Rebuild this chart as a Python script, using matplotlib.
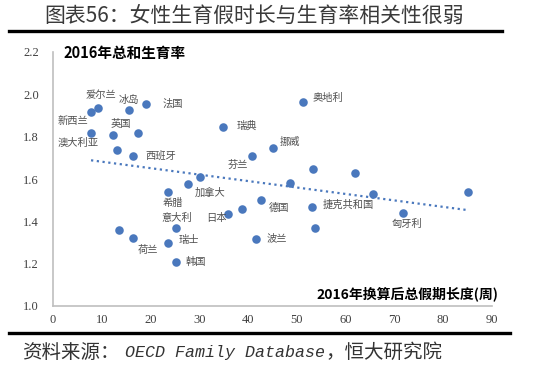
import numpy as np
import matplotlib
matplotlib.use("Agg")
import matplotlib.pyplot as plt

plt.rcParams['font.family'] = ['Noto Sans CJK SC', 'DejaVu Sans']

# ---- data ----
leave_weeks = [7.8, 9.2, 15.6, 19.0, 7.8, 12.2, 17.5, 13.2, 16.3, 34.8,
               45.0, 40.8, 30.1, 51.3, 53.3, 62.0, 48.6, 27.6, 23.5, 35.9,
               38.8, 42.7, 25.2, 13.6, 16.3, 23.5, 41.6, 25.2, 53.2, 53.7,
               65.6, 71.8, 85.0]
fertility = [1.916, 1.935, 1.924, 1.955, 1.818, 1.806, 1.816, 1.737, 1.707, 1.847,
             1.748, 1.707, 1.610, 1.964, 1.646, 1.627, 1.579, 1.577, 1.538, 1.437,
             1.458, 1.499, 1.369, 1.359, 1.320, 1.300, 1.318, 1.206, 1.469, 1.369,
             1.527, 1.439, 1.538]
labels = ['新西兰', '爱尔兰', '冰岛', '法国', '澳大利亚', '英国', '', '', '西班牙', '瑞典',
          '挪威', '芬兰', '加拿大', '奥地利', '', '', '', '', '希腊', '日本',
          '', '德国', '意大利', '', '荷兰', '瑞士', '波兰', '韩国', '捷克共和国', '',
          '', '匈牙利', '']
# label offsets in pixels (dx right, dy down) relative to the point
label_offsets = {'新西兰': (-18, 9), '爱尔兰': (3, -13), '冰岛': (0, -10), '法国': (27, 0),
                 '澳大利亚': (-13, 10), '英国': (8, -11), '西班牙': (28, -1), '瑞典': (24, -1),
                 '挪威': (17, -6), '芬兰': (-14, 8), '加拿大': (10, 16), '奥地利': (25, -4),
                 '希腊': (5, 11), '日本': (-12, 4), '德国': (18, 7), '意大利': (1, -10),
                 '荷兰': (15, 12), '瑞士': (21, -2), '波兰': (21, 0), '韩国': (20, 0),
                 '捷克共和国': (36, -2), '匈牙利': (4, 11)}

x_ticks = [0, 10, 20, 30, 40, 50, 60, 70, 80, 90]
y_ticks = [1.0, 1.2, 1.4, 1.6, 1.8, 2.0, 2.2]

title = '图表56：女性生育假时长与生育率相关性很弱'
y_title = '2016年总和生育率'
x_title = '2016年换算后总假期长度(周)'
source_parts = ['资料来源：', 'OECD Family Database', '，恒大研究院']

# ---- figure ----
W, H = 550, 368
fig = plt.figure(figsize=(W / 100, H / 100), dpi=100)
fig.patch.set_facecolor('white')

def px(x, y):
    return x / W, 1 - y / H

ax = fig.add_axes([53 / W, 1 - 306 / H, (492 - 53) / W, (306 - 52) / H])
blue = '#4a78bd'
ax.scatter(leave_weeks, fertility, s=38, color=blue, zorder=3, linewidths=0)

# trend line (linear fit)
xs = np.array(leave_weeks)
ys = np.array(fertility)
k, b = np.polyfit(xs, ys, 1)
tx = np.array([xs.min(), xs.max()])
ax.plot(tx, k * tx + b, linestyle=(0, (1, 1.6)), color=blue, linewidth=1.6, zorder=2)

for xv, yv, lab in zip(leave_weeks, fertility, labels):
    if not lab:
        continue
    dx, dy = label_offsets[lab]
    ax.annotate(lab, (xv, yv), xytext=(dx * 0.72, -dy * 0.72), textcoords='offset points',
                ha='center', va='center', fontsize=7.4, color='#505050')

ax.set_xlim(0, 90)
ax.set_ylim(1.0, 2.2)
ax.set_xticks(x_ticks)
ax.set_yticks(y_ticks)
ax.set_xticklabels([str(v) for v in x_ticks], family='Liberation Serif', fontsize=9, color='#404040')
ax.set_yticklabels([f'{v:.1f}' for v in y_ticks], family='Liberation Serif', fontsize=9, color='#404040')
ax.tick_params(length=0, pad=6)
ax.tick_params(axis='y', pad=10)
for s in ['top', 'right']:
    ax.spines[s].set_visible(False)
for s in ['left', 'bottom']:
    ax.spines[s].set_color('#bfbfbf')
    ax.spines[s].set_linewidth(1.2)

fig.text(*px(63, 53), y_title, fontsize=10.5, fontweight='bold',
         ha='left', va='center', color='black')
fig.text(*px(407, 294), x_title, fontsize=10, fontweight='bold',
         ha='center', va='center', color='black')

# title and rules
fig.text(*px(254, 16), title, fontsize=15, ha='center', va='center', color='#3a3a3a',
         fontweight='light')
fig.add_artist(plt.Line2D([9 / W, 502 / W], [1 - 31 / H, 1 - 31 / H], color='black', linewidth=2.4,
                          transform=fig.transFigure))
fig.add_artist(plt.Line2D([9 / W, 510 / W], [1 - 333 / H, 1 - 333 / H], color='black', linewidth=2.4,
                          transform=fig.transFigure))
fig.text(*px(22, 352), source_parts[0], fontsize=14, ha='left', va='center', color='#333333')
fig.text(*px(125, 352), source_parts[1], fontsize=12, ha='left', va='center', color='#333333',
         family='Liberation Mono', style='italic')
fig.text(*px(325, 352), source_parts[2], fontsize=14, ha='left', va='center', color='#333333')

fig.savefig('out.png', dpi=100)
